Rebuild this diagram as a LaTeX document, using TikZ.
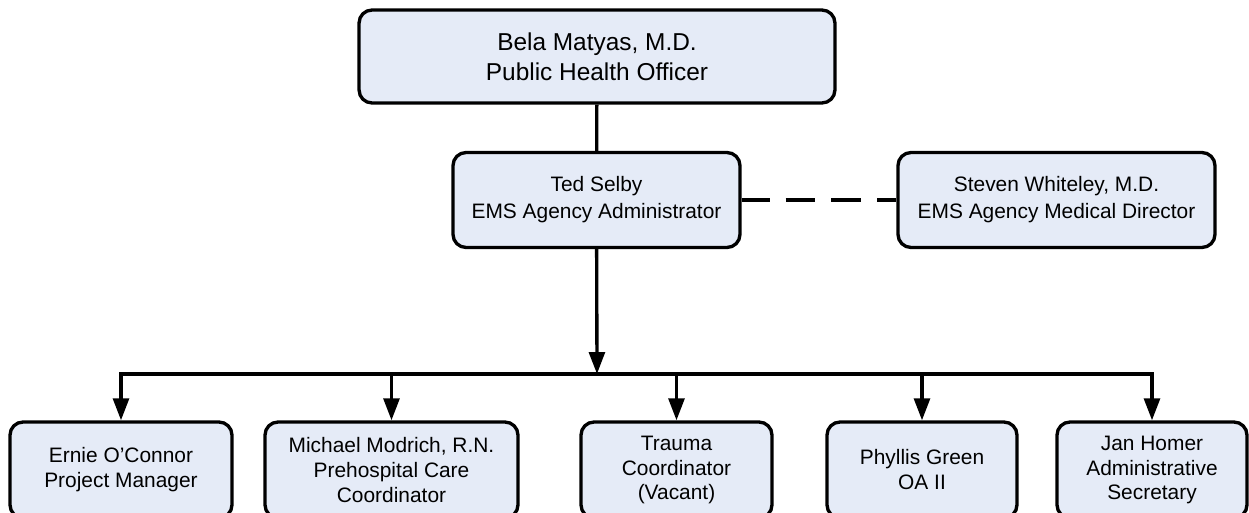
\documentclass[tikz,border=0pt]{standalone}
\usepackage{fontspec}
\setmainfont{Liberation Sans}
\usetikzlibrary{arrows.meta}
\definecolor{boxfill}{RGB}{229,235,247}
\tikzset{
  >={Triangle[length=12.5pt,width=9pt]},
  post/.style={draw,line width=1.9pt,rounded corners=7.4pt,fill=boxfill,align=center,inner sep=0pt},
  headpost/.style={post,minimum height=1.86cm,font=\fontsize{13.9}{17}\selectfont},
  midpost/.style={post,minimum height=1.9cm,font=\fontsize{11.9}{15.4}\selectfont},
  staffpost/.style={post,minimum height=1.92cm,font=\fontsize{11.9}{14.2}\selectfont},
  link/.style={line width=1.9pt}
}
\begin{document}
\begin{tikzpicture}[x=0.02cm,y=-0.02cm]
\useasboundingbox (0,0) rectangle (1249,513);
\node[headpost,minimum width=9.52cm] (phead) at (597,56.5) {Bela Matyas, M.D.\\Public Health Officer};
\node[midpost,minimum width=5.74cm] (admin) at (596.5,200) {Ted Selby\\EMS Agency Administrator};
\node[midpost,minimum width=6.34cm] (meddir) at (1056.5,200) {Steven Whiteley, M.D.\\EMS Agency Medical Director};
\node[staffpost,minimum width=4.44cm] (ernie) at (121,470) {Ernie O’Connor\\Project Manager};
\node[staffpost,minimum width=5.06cm] (michael) at (391.5,470) {Michael Modrich, R.N.\\Prehospital Care\\Coordinator};
\node[staffpost,minimum width=3.82cm] (trauma) at (676.5,470) {Trauma\\Coordinator\\(Vacant)};
\node[staffpost,minimum width=3.8cm] (phyllis) at (922,470) {Phyllis Green\\OA II};
\node[staffpost,minimum width=3.8cm] (jan) at (1152,470) {Jan Homer\\Administrative\\Secretary};
\coordinate (split) at (597,374);

\draw [link] (phead) -- (admin);
\draw [link,dash pattern=on 17pt off 9.1pt,dash phase=1.1pt] (admin) -- (meddir);
\draw [link,->] (admin) -- (split);
\draw [link,line cap=rect] (ernie |- split) -- (jan |- split);
\foreach \n in {ernie,michael,trauma,phyllis,jan}
  \draw [link,->] (\n |- split) -- (\n);
\end{tikzpicture}
\end{document}
